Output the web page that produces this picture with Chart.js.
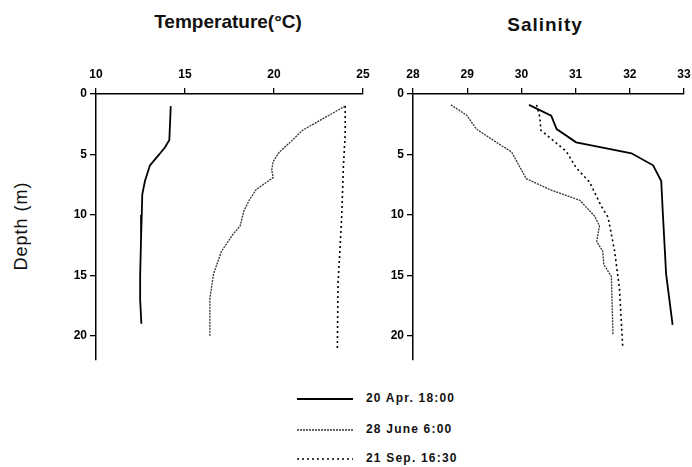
<!DOCTYPE html>
<html>
<head>
<meta charset="utf-8">
<script src="https://cdn.jsdelivr.net/npm/chart.js@4"></script>
<style>
  body { margin: 0; background: #fff; width: 692px; height: 467px; position: relative; overflow: hidden; font-family: "Liberation Sans", Arial, sans-serif; }
  canvas { position: absolute; }
  .title { position: absolute; font-weight: bold; font-size: 19px; color: #111; transform: translate(-50%, -50%); white-space: nowrap; }
  .ylab { position: absolute; left: 21px; top: 226px; font-size: 18px; color: #111; letter-spacing: 1px; transform: translate(-50%, -50%) rotate(-90deg); white-space: nowrap; }
  .leg { position: absolute; left: 297px; font-weight: bold; font-size: 12px; letter-spacing: 1.2px; color: #111; white-space: nowrap; }
  .leg svg { vertical-align: middle; margin-right: 13px; }
</style>
</head>
<body>
<div class="title" style="left:228px; top:22px;">Temperature(°C)</div>
<div class="title" style="left:545px; top:25px; letter-spacing:1px;">Salinity</div>
<div class="ylab">Depth (m)</div>
<canvas id="tempChart" width="380" height="320" style="left:0; top:50px;"></canvas>
<canvas id="salChart" width="312" height="320" style="left:380px; top:50px;"></canvas>
<div class="leg" style="top:391px;"><svg width="56" height="4"><line x1="0" y1="2" x2="56" y2="2" stroke="#000" stroke-width="1.8"/></svg>20 Apr. 18:00</div>
<div class="leg" style="top:422px;"><svg width="56" height="4"><line x1="0" y1="2" x2="56" y2="2" stroke="#333" stroke-width="1.3" stroke-dasharray="2 1"/></svg>28 June 6:00</div>
<div class="leg" style="top:451px;"><svg width="56" height="4"><line x1="0" y1="2" x2="56" y2="2" stroke="#000" stroke-width="1.6" stroke-dasharray="2 3"/></svg>21 Sep. 16:30</div>
<script>
// series labels
const seriesNames = ['20 Apr. 18:00', '28 June 6:00', '21 Sep. 16:30'];

// temperature profiles (depth in m, value in degC)
const tempAprDepth = [1, 3.8, 4.4, 5, 5.9, 7.2, 8.3, 10, 12, 15, 17, 19];
const tempAprVal   = [14.2, 14.12, 13.88, 13.55, 13.03, 12.75, 12.6, 12.57, 12.53, 12.48, 12.48, 12.55];
const tempJunDepth = [1, 2, 3, 4, 4.8, 5.6, 6.3, 6.9, 7.9, 8.8, 9.7, 10.9, 11.6, 13, 14.9, 16.9, 20];
const tempJunVal   = [24.0, 22.8, 21.6, 20.9, 20.3, 19.95, 19.87, 19.96, 19.0, 18.6, 18.3, 18.1, 17.7, 17.05, 16.6, 16.4, 16.4];
const tempSepDepth = [1, 3.3, 6, 10.2, 13, 15.6, 18, 21];
const tempSepVal   = [24.0, 24.0, 23.9, 23.8, 23.7, 23.6, 23.58, 23.56];

// salinity profiles
const salAprDepth = [0.9, 1.8, 2.9, 4.0, 4.5, 4.9, 5.9, 7.2, 9.9, 14.9, 19.1];
const salAprVal   = [30.14, 30.55, 30.65, 31.01, 31.57, 32.03, 32.43, 32.58, 32.61, 32.67, 32.79];
const salJunDepth = [0.9, 1.75, 2.9, 4.0, 4.8, 7.0, 7.9, 8.8, 10.1, 10.9, 12.2, 13, 14.1, 15.1, 19.9];
const salJunVal   = [28.7, 28.99, 29.17, 29.54, 29.82, 30.09, 30.52, 31.08, 31.35, 31.44, 31.39, 31.5, 31.52, 31.66, 31.69];
const salSepDepth = [0.9, 1.9, 3.0, 4.75, 6.1, 7.3, 9.25, 10.2, 13, 16.1, 21];
const salSepVal   = [30.28, 30.34, 30.36, 30.83, 31.01, 31.26, 31.47, 31.6, 31.72, 31.81, 31.87];

// axis ranges / ticks
const tempTicks = [10, 15, 20, 25];
const salTicks = [28, 29, 30, 31, 32, 33];
const depthTicks = [0, 5, 10, 15, 20];
const depthMax = 22;

const styles = [
  { borderColor: '#000', borderWidth: 1.8, borderDash: [] },
  { borderColor: '#333', borderWidth: 1.3, borderDash: [2, 1] },
  { borderColor: '#000', borderWidth: 1.6, borderDash: [2, 3] }
];

function pts(vals, depths) {
  return vals.map((v, i) => ({ x: v, y: depths[i] }));
}

function makeDatasets(list) {
  return list.map((d, i) => Object.assign({
    label: seriesNames[i],
    data: pts(d[0], d[1]),
    showLine: true,
    pointRadius: 0,
    tension: 0,
    fill: false
  }, styles[i]));
}

const tickFont = { family: "'Liberation Sans', Arial, sans-serif", size: 12, weight: 'bold' };

function axisStyle(extra) {
  return Object.assign({
    grid: { display: true, drawOnChartArea: false, drawTicks: true, tickLength: 6, color: '#000', lineWidth: 1.3 },
    border: { display: true, color: '#000', width: 1.5 },
    ticks: { color: '#000', font: tickFont }
  }, extra);
}

function makeChart(id, datasets, xTicks, yWidth, padRight) {
  const xMin = xTicks[0], xMax = xTicks[xTicks.length - 1];
  return new Chart(document.getElementById(id).getContext('2d'), {
    type: 'scatter',
    data: { datasets },
    options: {
      responsive: false,
      animation: false,
      layout: { padding: { left: 0, right: padRight, top: 0, bottom: 10 } },
      plugins: { legend: { display: false }, tooltip: { enabled: false } },
      scales: {
        x: axisStyle({
          type: 'linear', position: 'top', min: xMin, max: xMax,
          afterBuildTicks: s => { s.ticks = xTicks.map(v => ({ value: v })); },
          afterFit: s => { s.height = 44; s.paddingLeft = 0; s.paddingRight = 0; },
          ticks: { color: '#000', font: tickFont, padding: 6, maxRotation: 0 }
        }),
        y: axisStyle({
          type: 'linear', position: 'left', min: 0, max: depthMax, reverse: true,
          afterBuildTicks: s => { s.ticks = depthTicks.map(v => ({ value: v })); },
          afterFit: s => { s.width = yWidth; s.paddingTop = 0; s.paddingBottom = 0; },
          ticks: { color: '#000', font: tickFont, padding: 3 }
        })
      }
    }
  });
}

makeChart('tempChart', makeDatasets([
  [tempAprVal, tempAprDepth], [tempJunVal, tempJunDepth], [tempSepVal, tempSepDepth]
]), tempTicks, 96, 17);

makeChart('salChart', makeDatasets([
  [salAprVal, salAprDepth], [salJunVal, salJunDepth], [salSepVal, salSepDepth]
]), salTicks, 33, 8);
</script>
</body>
</html>
